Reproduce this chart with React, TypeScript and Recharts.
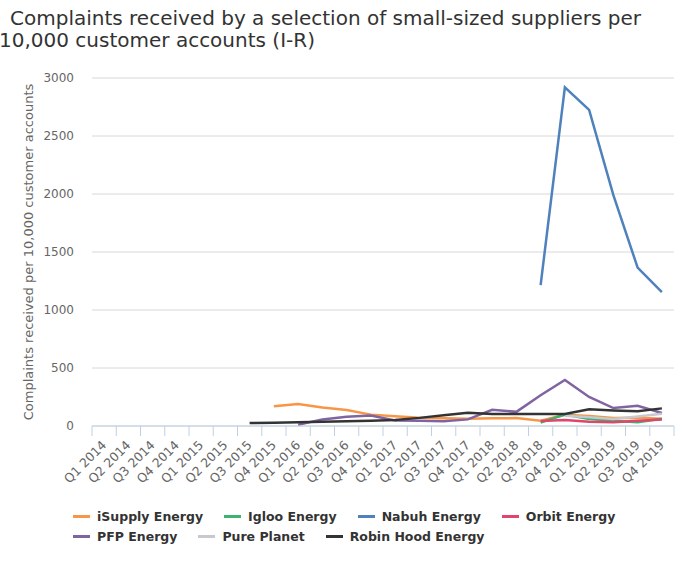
import React from 'react';
import { LineChart, Line, XAxis, YAxis, CartesianGrid } from 'recharts';

const quarters = [
  'Q1 2014', 'Q2 2014', 'Q3 2014', 'Q4 2014',
  'Q1 2015', 'Q2 2015', 'Q3 2015', 'Q4 2015',
  'Q1 2016', 'Q2 2016', 'Q3 2016', 'Q4 2016',
  'Q1 2017', 'Q2 2017', 'Q3 2017', 'Q4 2017',
  'Q1 2018', 'Q2 2018', 'Q3 2018', 'Q4 2018',
  'Q1 2019', 'Q2 2019', 'Q3 2019', 'Q4 2019',
];

const N = null;
const iSupplyEnergy = [N, N, N, N, N, N, N, 170, 190, 160, 138, 98, 85, 72, 66, 63, 66, 68, 46, 96, 86, 70, 72, 63];
const iglooEnergy = [N, N, N, N, N, N, N, N, N, N, N, N, N, N, N, N, N, N, 30, 98, 60, 45, 32, 63];
const nabuhEnergy = [N, N, N, N, N, N, N, N, N, N, N, N, N, N, N, N, N, N, 1215, 2920, 2725, 1990, 1365, 1155];
const orbitEnergy = [N, N, N, N, N, N, N, N, N, N, N, N, N, N, N, N, N, N, 43, 52, 37, 32, 45, 55];
const pfpEnergy = [N, N, N, N, N, N, N, N, 10, 57, 80, 90, 48, 45, 42, 57, 140, 122, 265, 397, 250, 155, 175, 112];
const purePlanet = [N, N, N, N, N, N, N, N, N, N, N, N, N, N, N, N, N, N, N, 88, 75, 60, 82, 105];
const robinHoodEnergy = [N, N, N, N, N, N, 26, 29, 33, 36, 40, 46, 52, 70, 93, 115, 104, 103, 103, 103, 144, 134, 128, 152];

const seriesNames = ['iSupply Energy', 'Igloo Energy', 'Nabuh Energy', 'Orbit Energy', 'PFP Energy', 'Pure Planet', 'Robin Hood Energy'];
const seriesKeys = ['isupply', 'igloo', 'nabuh', 'orbit', 'pfp', 'pure', 'robin'];
const seriesValues = [iSupplyEnergy, iglooEnergy, nabuhEnergy, orbitEnergy, pfpEnergy, purePlanet, robinHoodEnergy];
const seriesColors = ['#f79646', '#3cb371', '#4f81bd', '#e0456b', '#8064a2', '#c6c9cd', '#333333'];
const legendRows = [[0, 1, 2, 3], [4, 5, 6]];

const titleLines = ['Complaints received by a selection of small-sized suppliers per', '10,000 customer accounts (I-R)'];
const yAxisTitle = 'Complaints received per 10,000 customer accounts';
const yTicks = [0, 500, 1000, 1500, 2000, 2500, 3000];
const xBoundaries = Array.from({ length: quarters.length + 1 }, (_, i) => i);

const data = quarters.map((q, i) => {
  const row: any = { x: i + 0.5, q };
  seriesKeys.forEach((k, s) => { row[k] = seriesValues[s][i]; });
  return row;
});

const W = 686;
const H = 571;
const M = { top: 78, right: 12, left: 0, bottom: 85 };
const Y_W = 92;
const X_H = 60;
const PLOT_W = W - M.left - M.right - Y_W;
const BAND = PLOT_W / quarters.length;
const FONT = '"DejaVu Sans", sans-serif';

const XTick = (props: any) => {
  const { x, y, payload } = props;
  const i = payload.value;
  return (
    <g>
      <line x1={x} x2={x} y1={y} y2={y + 10} stroke="#c0d0e0" strokeWidth={1} />
      {i < quarters.length && (
        <text
          transform={`translate(${x + BAND / 2 + 3},${y + 20}) rotate(-45)`}
          textAnchor="end"
          fill="#666666"
          fontSize={12.5}
          fontFamily={FONT}
        >
          {quarters[i]}
        </text>
      )}
    </g>
  );
};

export default function App() {
  return (
    <div style={{ position: 'absolute', left: 0, top: 0, width: W, height: H, background: '#fff', fontFamily: FONT }}>
      {titleLines.map((t, k) => (
        <div key={k} style={{ position: 'absolute', left: k === 0 ? 10 : -1, top: 7 + k * 22, fontSize: 20, lineHeight: '22px', color: '#333333', fontFamily: FONT, whiteSpace: 'pre' }}>
          {t}
        </div>
      ))}
      <LineChart width={W} height={H} data={data} margin={M}>
        <CartesianGrid horizontal vertical={false} stroke="#d8d8d8" />
        <XAxis
          dataKey="x"
          type="number"
          domain={[0, quarters.length]}
          ticks={xBoundaries}
          interval={0}
          height={X_H}
          tickSize={0}
          tickMargin={0}
          tickLine={false}
          axisLine={{ stroke: '#c0d0e0' }}
          tick={<XTick />}
        />
        <YAxis
          type="number"
          domain={[0, 3000]}
          ticks={yTicks}
          width={Y_W}
          tickSize={0}
          tickMargin={18}
          tickLine={false}
          axisLine={false}
          tick={{ fill: '#666666', fontSize: 12, fontFamily: FONT }}
          label={{ value: yAxisTitle, angle: -90, position: 'center', dx: -18, fill: '#666666', fontSize: 13, fontFamily: FONT }}
        />
        {seriesKeys.map((k, s) => (
          <Line
            key={k}
            type="linear"
            dataKey={k}
            name={seriesNames[s]}
            stroke={seriesColors[s]}
            strokeWidth={2.5}
            dot={false}
            activeDot={false}
            isAnimationActive={false}
          />
        ))}
      </LineChart>
      <div style={{ position: 'absolute', left: 73, top: 506, fontFamily: FONT }}>
        {legendRows.map((row, r) => (
          <div key={r} style={{ display: 'flex', height: 20, alignItems: 'center', columnGap: 21 }}>
            {row.map((s) => (
              <div key={s} style={{ display: 'flex', alignItems: 'center' }}>
                <span style={{ display: 'inline-block', width: 17, height: 3, background: seriesColors[s], marginRight: 7 }} />
                <span style={{ fontSize: 12.5, fontWeight: 'bold', color: '#333333' }}>{seriesNames[s]}</span>
              </div>
            ))}
          </div>
        ))}
      </div>
    </div>
  );
}
